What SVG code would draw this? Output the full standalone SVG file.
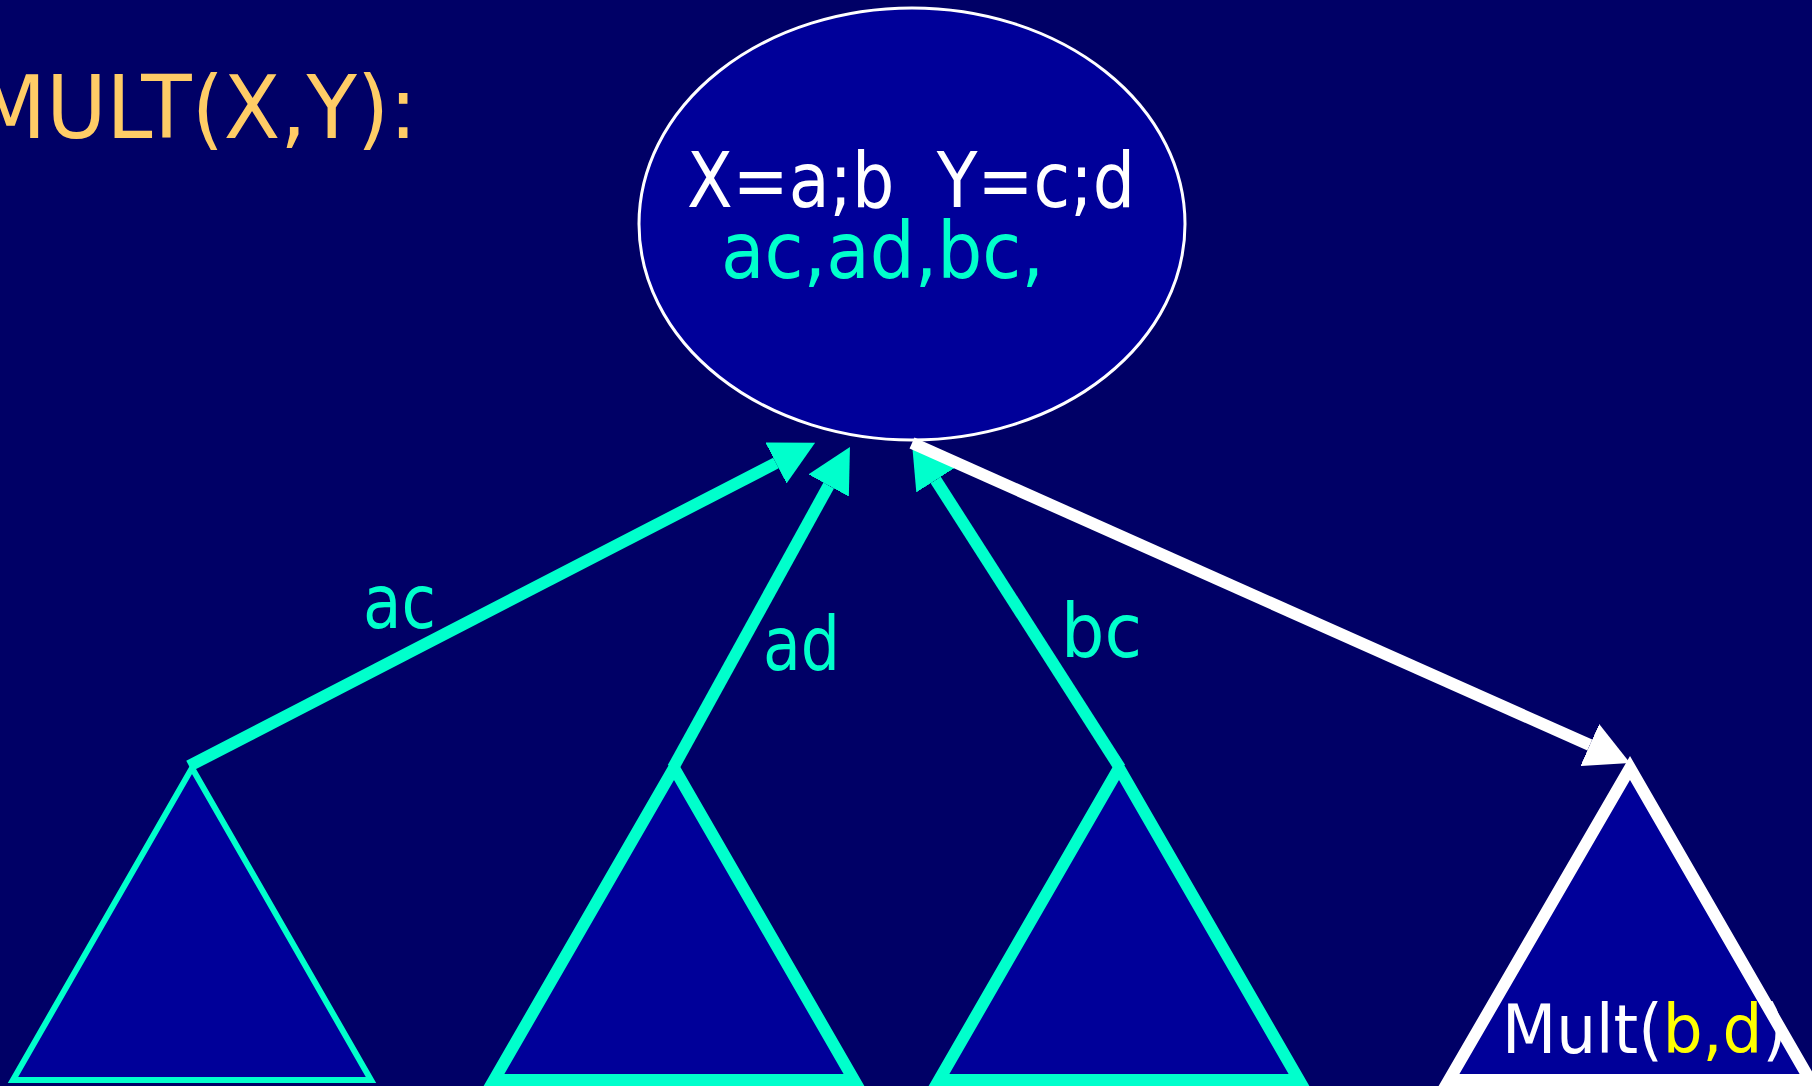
<svg xmlns="http://www.w3.org/2000/svg" width="1812" height="1086" viewBox="0 0 1812 1086">
  <style>
    .bg { fill: #000066; }
    .txt { font-family: "Comic Sans MS", "DejaVu Sans", sans-serif; }
    .tree { fill: #000099; stroke-linejoin: miter; }
    .link { fill: none; stroke-linecap: butt; stroke-width: 12; }
  </style>
  <defs>
    <marker id="headCyan" viewBox="0 0 44 46" refX="0" refY="23" markerWidth="44" markerHeight="46" markerUnits="userSpaceOnUse" orient="auto">
      <path d="M0,0 L44,23 L0,46 z" fill="#00FFCC"/>
    </marker>
    <marker id="headWhite" viewBox="0 0 44 46" refX="0" refY="23" markerWidth="44" markerHeight="46" markerUnits="userSpaceOnUse" orient="auto">
      <path d="M0,0 L44,23 L0,46 z" fill="#FFFFFF"/>
    </marker>
  </defs>

  <rect class="bg" x="0" y="0" width="1812" height="1086"/>

  <!-- title -->
  <text id="title" class="txt" x="-25" y="138" font-size="88" fill="#FFCC66" textLength="442" lengthAdjust="spacingAndGlyphs">MULT(X,Y):</text>

  <!-- root call -->
  <g id="root">
    <ellipse cx="912" cy="224" rx="273" ry="216" fill="#000099" stroke="#FFFFFF" stroke-width="3"/>
    <text class="txt" x="687" y="207" font-size="76" fill="#FFFFFF" xml:space="preserve" textLength="448" lengthAdjust="spacingAndGlyphs">X=a;b  Y=c;d</text>
    <text class="txt" x="721" y="278" font-size="78" fill="#00FFCC" textLength="323" lengthAdjust="spacingAndGlyphs">ac,ad,bc,</text>
  </g>

  <!-- connectors -->
  <g id="connectors">
    <line class="link" x1="189" y1="766" x2="776" y2="463" stroke="#00FFCC" marker-end="url(#headCyan)"/>
    <line class="link" x1="673" y1="768" x2="828.7" y2="485.5" stroke="#00FFCC" marker-end="url(#headCyan)"/>
    <line class="link" x1="1120" y1="768" x2="935.7" y2="480" stroke="#00FFCC" marker-end="url(#headCyan)"/>
    <line class="link" x1="912" y1="443" x2="1589.8" y2="745.1" stroke="#FFFFFF" marker-end="url(#headWhite)"/>
    <text class="txt" x="363" y="628" font-size="74" fill="#00FFCC" textLength="73" lengthAdjust="spacingAndGlyphs">ac</text>
    <text class="txt" x="763" y="670" font-size="74" fill="#00FFCC" textLength="77" lengthAdjust="spacingAndGlyphs">ad</text>
    <text class="txt" x="1061" y="657" font-size="74" fill="#00FFCC" textLength="81" lengthAdjust="spacingAndGlyphs">bc</text>
  </g>

  <!-- recursive sub-calls -->
  <g id="sub-ac">
    <polygon class="tree" points="192,768 13,1080 371,1080" stroke="#00FFCC" stroke-width="6"/>
  </g>
  <g id="sub-ad">
    <polygon class="tree" points="674,768 494,1080 854,1080" stroke="#00FFCC" stroke-width="12"/>
  </g>
  <g id="sub-bc">
    <polygon class="tree" points="1119,768 939,1080 1299,1080" stroke="#00FFCC" stroke-width="12"/>
  </g>
  <g id="sub-bd">
    <polygon class="tree" points="1630,768 1449,1080 1810,1080" stroke="#FFFFFF" stroke-width="12"/>
    <text class="txt" x="1502" y="1053" font-size="68" fill="#FFFFFF" textLength="285" lengthAdjust="spacingAndGlyphs">Mult(<tspan fill="#FFFF00">b,d</tspan>)</text>
  </g>
</svg>
